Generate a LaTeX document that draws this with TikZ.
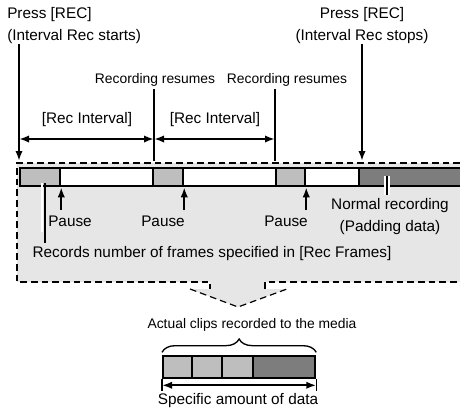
\documentclass[tikz,border=0pt]{standalone}
\usepackage{fontspec}
\setmainfont{Liberation Sans}
\usetikzlibrary{arrows.meta, positioning, calc, decorations.pathreplacing}
\definecolor{panelgray}{HTML}{E6E6E6}
\definecolor{lightblk}{HTML}{BEBEBE}
\definecolor{darkblk}{HTML}{7D7D7D}

\begin{document}
\begin{tikzpicture}[x=0.75pt, y=-0.75pt,
    lbl/.style={font=\fontsize{11.5}{16.5}\selectfont, inner sep=0pt, align=center},
    smalllbl/.style={font=\fontsize{10.4}{12}\selectfont, inner sep=0pt},
    tline/.style={line width=1.5pt},
    arr/.style={tline, -{Latex[length=7.5pt, width=5.5pt]}},
    dblarr/.style={tline, {Latex[length=7.5pt, width=5.5pt]}-{Latex[length=7.5pt, width=5.5pt]}},
    blk/.style={draw, line width=1.7pt, inner sep=0pt, anchor=north west, minimum height=18*0.75pt},
    dashline/.style={line width=0.9pt, dash pattern=on 5pt off 3pt},
]
\useasboundingbox (0,0) rectangle (460,411);

% panel with pointer
\fill[panelgray] (17,163) -- (460,163) -- (460,282) -- (265,282) -- (265,289) -- (287,289)
  -- (238,307) -- (190,289) -- (210,289) -- (210,282) -- (17,282) -- cycle;
\draw[dashline] (460,163) -- (17,163) -- (17,282) -- (210,282) -- (210,289);
\draw[dashline] (190,289) -- (238,307) -- (287,289);
\draw[dashline] (265,289) -- (265,282) -- (460,282);

% timeline bar
\begin{scope}
\clip (0,150) rectangle (460,200);
\node[blk, fill=white, minimum width=450*0.75pt] (bar) at (19,167) {};
\node[blk, fill=lightblk, minimum width=40*0.75pt] (b1) at (19,167) {};
\node[blk, fill=lightblk, minimum width=30*0.75pt] (b2) at (152,167) {};
\node[blk, fill=lightblk, minimum width=29*0.75pt] (b3) at (275,167) {};
\node[blk, fill=darkblk, minimum width=110*0.75pt] (bn) at (358,167) {};
\end{scope}

\coordinate (ptop) at (0,161);
\coordinate (m0) at (19,139);
\coordinate (m1) at (154,139);
\coordinate (m2) at (275,139);

% labels
\node[lbl, align=left, anchor=west] (startlbl) at (7,26) {Press [REC]\\(Interval Rec starts)};
\node[lbl] (stoplbl) at (362,26) {Press [REC]\\(Interval Rec stops)};
\node[smalllbl] (resume1) at (155,80) {Recording resumes};
\node[smalllbl] (resume2) at (287,80) {Recording resumes};
\node[lbl] (int1) at (87,120) {[Rec Interval]};
\node[lbl] (int2) at (215,120) {[Rec Interval]};
\node[lbl] (p1) at (70,221) {Pause};
\node[lbl] (p2) at (163,221) {Pause};
\node[lbl] (p3) at (286,221) {Pause};
\node[lbl] (normal) at (390,217) {Normal recording\\(Padding data)};
\node[lbl] (frames) at (212,254) {Records number of frames specified in [Rec Frames]};

% markers and arrows
\draw[arr] (startlbl.south -| m0) -- (m0 |- ptop);
\draw[arr] (stoplbl.south) -- (stoplbl.south |- ptop);
\draw[tline] ([yshift=-2pt]resume1.south -| m1) -- (m1 |- ptop);
\draw[tline] ([yshift=-2pt]resume2.south -| m2) -- (m2 |- ptop);
\draw[dblarr] (m0) -- (m1);
\draw[dblarr] (m1) -- (m2);
\foreach \b/\p in {b1/p1, b2/p2, b3/p3}{
  \draw[arr] ([yshift=4pt]\p.north -| \b.south east) -- (\b.south east);
}
\draw[white, line width=1.6pt] (42,183) -- (42,232);
\draw[tline] (44.5,183) -- (44.5,243);
\draw[white, line width=4.5pt] (387,176) -- (387,195);
\draw[line width=1.2pt] (387,176) -- (387,195);

% clip recorded to the media
\node[smalllbl] (clips) at (252,325) {Actual clips recorded to the media};
\foreach \n/\xa/\w/\c in {c1/162/29/lightblk, c2/191/30/lightblk, c3/221/31/lightblk, c4/252/62/darkblk}{
  \node[blk, fill=\c, minimum width=\w*0.75pt, minimum height=22*0.75pt] (\n) at (\xa,355) {};
}
\draw[line width=1pt, decorate, decoration={brace, amplitude=10pt}]
  ([yshift=2pt]c1.north west) -- ([yshift=2pt]c4.north east);
\draw[line width=0.8pt] (c1.south west) -- ++(0,12);
\draw[line width=0.8pt] (c4.south east) -- ++(0,12);
\draw[dblarr] ($(c1.south west)+(0,6)$) -- ($(c4.south east)+(0,6)$);
\node[lbl] (amount) at (238,401) {Specific amount of data};

\end{tikzpicture}
\end{document}
